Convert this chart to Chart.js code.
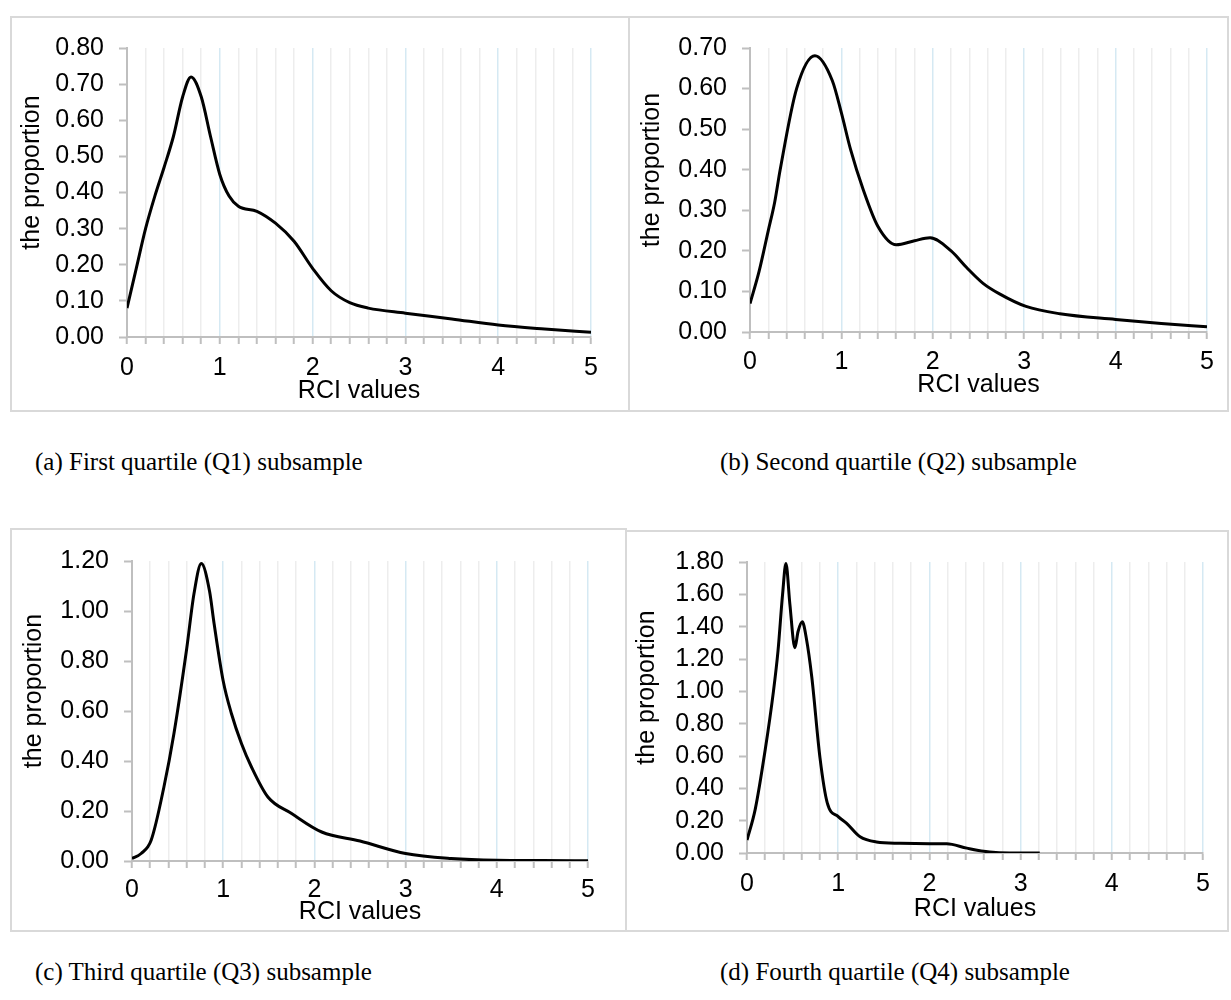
<!DOCTYPE html>
<html>
<head>
<meta charset="utf-8">
<script src="https://cdn.jsdelivr.net/npm/chart.js@4.4.1/dist/chart.umd.min.js"></script>
<style>
  body { margin: 0; background: #fff; width: 1231px; height: 1000px; position: relative; overflow: hidden; }
  .panel { position: absolute; border: 2px solid #d9d9d9; box-sizing: border-box; background: #fff; }
  .panel canvas { display: block; }
  .caption { position: absolute; font-family: "Liberation Serif", "Times New Roman", serif; font-size: 25px; color: #000; white-space: nowrap; }
</style>
</head>
<body>
<div class="panel" id="boxA" style="left:10px;top:16px;width:620px;height:396px"><canvas id="chartA"></canvas></div>
<div class="panel" id="boxB" style="left:628px;top:16px;width:601px;height:396px"><canvas id="chartB"></canvas></div>
<div class="panel" id="boxC" style="left:10px;top:528px;width:617px;height:404px"><canvas id="chartC"></canvas></div>
<div class="panel" id="boxD" style="left:625px;top:530px;width:604px;height:402px"><canvas id="chartD"></canvas></div>

<div class="caption" style="left:35px;top:448px">(a) First quartile (Q1) subsample</div>
<div class="caption" style="left:720px;top:448px">(b) Second quartile (Q2) subsample</div>
<div class="caption" style="left:35px;top:958px">(c) Third quartile (Q3) subsample</div>
<div class="caption" style="left:720px;top:958px">(d) Fourth quartile (Q4) subsample</div>

<script>
// RCI values (x) and proportion (y)
const q1X = [0, 0.1, 0.2, 0.3, 0.4, 0.5, 0.6, 0.69, 0.8, 0.9, 1.0, 1.1, 1.2, 1.4, 1.6, 1.8, 2.0, 2.2, 2.4, 2.6, 3.0, 3.5, 4.0, 4.5, 5.0];
const q1Y = [0.08, 0.19, 0.3, 0.39, 0.47, 0.555, 0.665, 0.72, 0.665, 0.555, 0.45, 0.39, 0.362, 0.348, 0.315, 0.265, 0.19, 0.128, 0.095, 0.08, 0.066, 0.05, 0.033, 0.022, 0.013];

const q2X = [0, 0.1, 0.2, 0.27, 0.33, 0.51, 0.71, 0.9, 1.0, 1.1, 1.24, 1.4, 1.6, 1.8, 1.97, 2.2, 2.37, 2.55, 2.73, 3.02, 3.39, 4.0, 4.5, 5.0];
const q2Y = [0.07, 0.15, 0.25, 0.32, 0.4, 0.6, 0.681, 0.62, 0.54, 0.45, 0.35, 0.26, 0.215, 0.225, 0.232, 0.2, 0.159, 0.12, 0.094, 0.063, 0.045, 0.031, 0.021, 0.013];

const q3X = [0, 0.1, 0.21, 0.35, 0.46, 0.6, 0.68, 0.76, 0.85, 0.9, 1.0, 1.09, 1.2, 1.31, 1.49, 1.75, 2.08, 2.5, 3.0, 3.5, 4.0, 4.5, 5.0];
const q3Y = [0.01, 0.03, 0.083, 0.296, 0.51, 0.85, 1.07, 1.19, 1.08, 0.95, 0.72, 0.59, 0.47, 0.376, 0.256, 0.19, 0.116, 0.08, 0.03, 0.01, 0.003, 0.002, 0.001];

const q4X = [0, 0.09, 0.2, 0.29, 0.34, 0.39, 0.427, 0.47, 0.525, 0.56, 0.606, 0.65, 0.71, 0.8, 0.88, 1.0, 1.09, 1.24, 1.42, 1.68, 2.0, 2.19, 2.41, 2.66, 2.88, 3.21];
const q4Y = [0.08, 0.27, 0.64, 1.0, 1.25, 1.6, 1.79, 1.54, 1.27, 1.37, 1.43, 1.33, 1.09, 0.59, 0.31, 0.225, 0.185, 0.1, 0.068, 0.06, 0.057, 0.057, 0.03, 0.006, 0.0, 0.0];

const xTitle = "RCI values";
const yTitle = "the proportion";

const axisGray = "#bfbfbf";
const majorGrid = "#d5e9f3";
const minorGrid = "#ededed";
const fontFamily = '"Liberation Sans", Arial, sans-serif';
const fontSize = 25;

const isWhole = (v) => Math.abs(v - Math.round(v)) < 1e-6;

// draws the rotated y title a little above the plot centre, like the original
const sideTitle = {
  id: "sideTitle",
  afterDraw(chart, args, opts) {
    const { ctx, chartArea } = chart;
    ctx.save();
    ctx.font = `${opts.size}px ${fontFamily}`;
    ctx.fillStyle = "#000";
    ctx.textAlign = "center";
    ctx.textBaseline = "middle";
    ctx.translate(opts.x, (chartArea.top + chartArea.bottom) / 2 - opts.lift);
    ctx.rotate(-Math.PI / 2);
    ctx.fillText(opts.text, 0, 0);
    ctx.restore();
  },
};

function createDensityChart(canvas, xs, ys, yMax, yStep, frame) {
  const box = canvas.parentElement;
  canvas.width = box.clientWidth;
  canvas.height = box.clientHeight;
  const points = xs.map((x, i) => ({ x, y: ys[i] }));

  return new Chart(canvas.getContext("2d"), {
    type: "line",
    data: {
      datasets: [
        {
          data: points,
          borderColor: "#000",
          borderWidth: 3,
          pointRadius: 0,
          fill: false,
          cubicInterpolationMode: "monotone",
        },
      ],
    },
    options: {
      animation: false,
      responsive: false,
      layout: { padding: { top: frame.top, right: frame.right, left: 0, bottom: 0 } },
      plugins: {
        legend: { display: false },
        tooltip: { enabled: false },
        sideTitle: { text: yTitle, x: frame.yTitleX, lift: 20, size: fontSize },
      },
      scales: {
        x: {
          type: "linear",
          min: 0,
          max: 5,
          afterFit: (scale) => { scale.height = frame.xHeight; },
          ticks: {
            stepSize: 0.2,
            autoSkip: false,
            maxRotation: 0,
            color: "#000",
            padding: frame.labelPad,
            font: { family: fontFamily, size: fontSize },
            callback: (v) => (isWhole(v) ? String(Math.round(v)) : ""),
          },
          grid: {
            color: (ctx) => (ctx.tick && isWhole(ctx.tick.value) ? majorGrid : minorGrid),
            lineWidth: 1.5,
            tickColor: axisGray,
            tickLength: 7,
            tickWidth: 2,
          },
          border: { color: axisGray, width: 2 },
          title: {
            display: true,
            text: xTitle,
            color: "#000",
            font: { family: fontFamily, size: fontSize },
            padding: { top: 0, bottom: frame.titlePad },
          },
        },
        y: {
          min: 0,
          max: yMax,
          afterFit: (scale) => { scale.width = frame.left; },
          ticks: {
            stepSize: yStep,
            autoSkip: false,
            color: "#000",
            padding: 15,
            font: { family: fontFamily, size: fontSize },
            callback: (v) => v.toFixed(2),
          },
          grid: {
            drawOnChartArea: false,
            tickColor: axisGray,
            tickLength: 8,
            tickWidth: 2,
          },
          border: { color: axisGray, width: 2 },
        },
      },
    },
    plugins: [sideTitle],
  });
}

createDensityChart(document.getElementById("chartA"), q1X, q1Y, 0.8, 0.1,
  { left: 115, top: 27, right: 37, xHeight: 73, labelPad: 9, titlePad: 4, yTitleX: 20 });
createDensityChart(document.getElementById("chartB"), q2X, q2Y, 0.7, 0.1,
  { left: 120, top: 27, right: 20, xHeight: 78, labelPad: 8, titlePad: 10, yTitleX: 22 });
createDensityChart(document.getElementById("chartC"), q3X, q3Y, 1.2, 0.2,
  { left: 120, top: 31, right: 37, xHeight: 69, labelPad: 7, titlePad: 3, yTitleX: 22 });
createDensityChart(document.getElementById("chartD"), q4X, q4Y, 1.8, 0.2,
  { left: 120, top: 29, right: 24, xHeight: 77, labelPad: 9, titlePad: 6, yTitleX: 20 });
</script>
</body>
</html>
